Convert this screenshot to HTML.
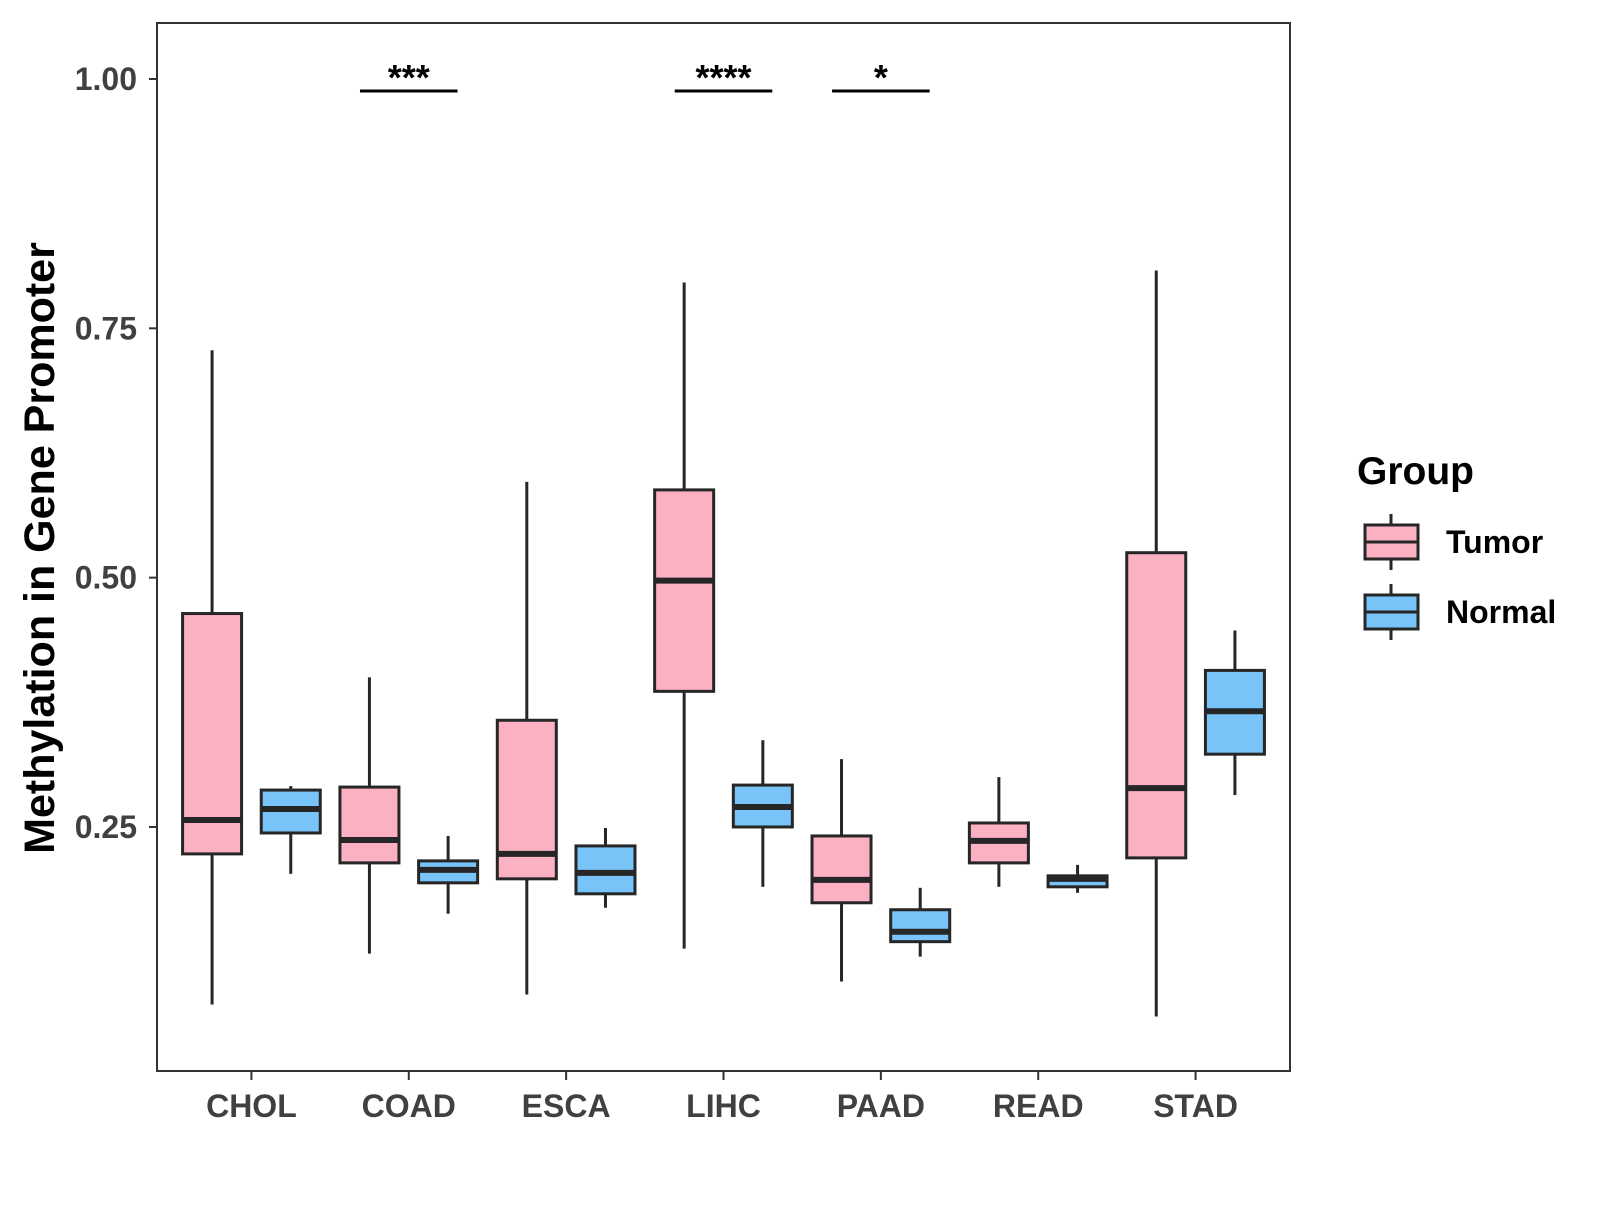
<!DOCTYPE html>
<html><head><meta charset="utf-8"><style>
body{margin:0;background:#fff;width:1600px;height:1200px;overflow:hidden}
text{font-family:"Liberation Sans",sans-serif;font-weight:bold}
</style></head><body>
<svg id="chart" width="1600" height="1200" xmlns="http://www.w3.org/2000/svg"></svg>
<script>
const categories=["CHOL","COAD","ESCA","LIHC","PAAD","READ","STAD"];
// [lowerWhisker, Q1, median, Q3, upperWhisker]
const tumorStats=[[0.072,0.223,0.257,0.464,0.728],[0.123,0.214,0.237,0.290,0.400],[0.082,0.198,0.223,0.357,0.596],[0.128,0.386,0.497,0.588,0.796],[0.095,0.174,0.197,0.241,0.318],[0.190,0.214,0.236,0.254,0.300],[0.060,0.219,0.289,0.525,0.808]];
const normalStats=[[0.203,0.244,0.268,0.287,0.291],[0.163,0.194,0.207,0.216,0.241],[0.169,0.183,0.204,0.231,0.249],[0.190,0.250,0.270,0.292,0.337],[0.120,0.135,0.145,0.167,0.189],[0.184,0.190,0.198,0.201,0.212],[0.282,0.323,0.366,0.407,0.447]];
const yTicks=[0.25,0.5,0.75,1.0];
const yTickLabels=["0.25","0.50","0.75","1.00"];
const sigCategories=["COAD","LIHC","PAAD"];
const sigLabels=["***","****","*"];
const sigLevel=0.988;

const NS="http://www.w3.org/2000/svg";
const svg=document.getElementById('chart');
const L=157,R=1290,T=23,B=1071;
const unit=(R-L)/7.2;
const x=i=>L+(0.6+i)*unit;
const y=v=>79+(1-v)*997.3;
function mk(tag,attrs,parent){const e=document.createElementNS(NS,tag);for(const k in attrs)e.setAttribute(k,attrs[k]);(parent||svg).appendChild(e);return e;}

const panel=mk('rect',{x:L,y:T,width:R-L,height:B-T,fill:'#fff',stroke:'#333',"stroke-width":2});



yTicks.forEach((v,i)=>{
  const t=mk('line',{x1:L-8,x2:L,y1:y(v),y2:y(v),stroke:'#333',"stroke-width":2});
  
  
  const lb=mk('text',{x:L-20,y:y(v)+11,"text-anchor":"end","font-size":32,fill:'#404040'});
  lb.textContent=yTickLabels[i];
  
  
});
categories.forEach((c,i)=>{
  const t=mk('line',{x1:x(i),x2:x(i),y1:B,y2:B+9,stroke:'#333',"stroke-width":2});
  
  
  const lb=mk('text',{x:x(i),y:B+46,"text-anchor":"middle","font-size":32,fill:'#404040'});
  lb.textContent=c;
  
  
});
function box(cx,s,fill,name){
  const g=mk('g',{});
  
  
  const hw=unit*0.1875;
  mk('line',{x1:cx,x2:cx,y1:y(s[0]),y2:y(s[1]),stroke:'#262626',"stroke-width":3},g);
  mk('line',{x1:cx,x2:cx,y1:y(s[3]),y2:y(s[4]),stroke:'#262626',"stroke-width":3},g);
  mk('rect',{x:cx-hw,y:y(s[3]),width:2*hw,height:y(s[1])-y(s[3]),fill:fill,stroke:'#262626',"stroke-width":3},g);
  mk('line',{x1:cx-hw,x2:cx+hw,y1:y(s[2]),y2:y(s[2]),stroke:'#262626',"stroke-width":6},g);
}
categories.forEach((c,i)=>{
  box(x(i)-unit*0.25,tumorStats[i],'#fbb1c2','tumor-box-'+c.toLowerCase());
  box(x(i)+unit*0.25,normalStats[i],'#78c3f7','normal-box-'+c.toLowerCase());
});
sigCategories.forEach((c,k)=>{
  const i=categories.indexOf(c);
  const ln=mk('line',{x1:x(i)-unit*0.31,x2:x(i)+unit*0.31,y1:y(sigLevel),y2:y(sigLevel),stroke:'#000',"stroke-width":3});
  
  
  const t=mk('text',{x:x(i),y:y(sigLevel)-1,"text-anchor":"middle","font-size":36,fill:'#000'});
  t.textContent=sigLabels[k];
  
  
});
const yt=mk('text',{x:0,y:0,"text-anchor":"middle","font-size":43,fill:'#000',transform:'translate(54,548) rotate(-90)'});
yt.textContent='Methylation in Gene Promoter';


const lt=mk('text',{x:1357,y:484,"font-size":39,fill:'#000'});
lt.textContent='Group';


[['Tumor','#fbb1c2',542],['Normal','#78c3f7',612]].forEach(([nm,f,cy])=>{
  const g=mk('g',{});
  
  
  mk('line',{x1:1391,x2:1391,y1:cy-28,y2:cy+28,stroke:'#262626',"stroke-width":3},g);
  mk('rect',{x:1365,y:cy-17,width:53,height:34,fill:f,stroke:'#262626',"stroke-width":3},g);
  mk('line',{x1:1365,x2:1418,y1:cy,y2:cy,stroke:'#262626',"stroke-width":3},g);
  const t=mk('text',{x:1446,y:cy+11,"font-size":32,fill:'#000'},g);
  t.textContent=nm;
});
</script>
</body></html>
